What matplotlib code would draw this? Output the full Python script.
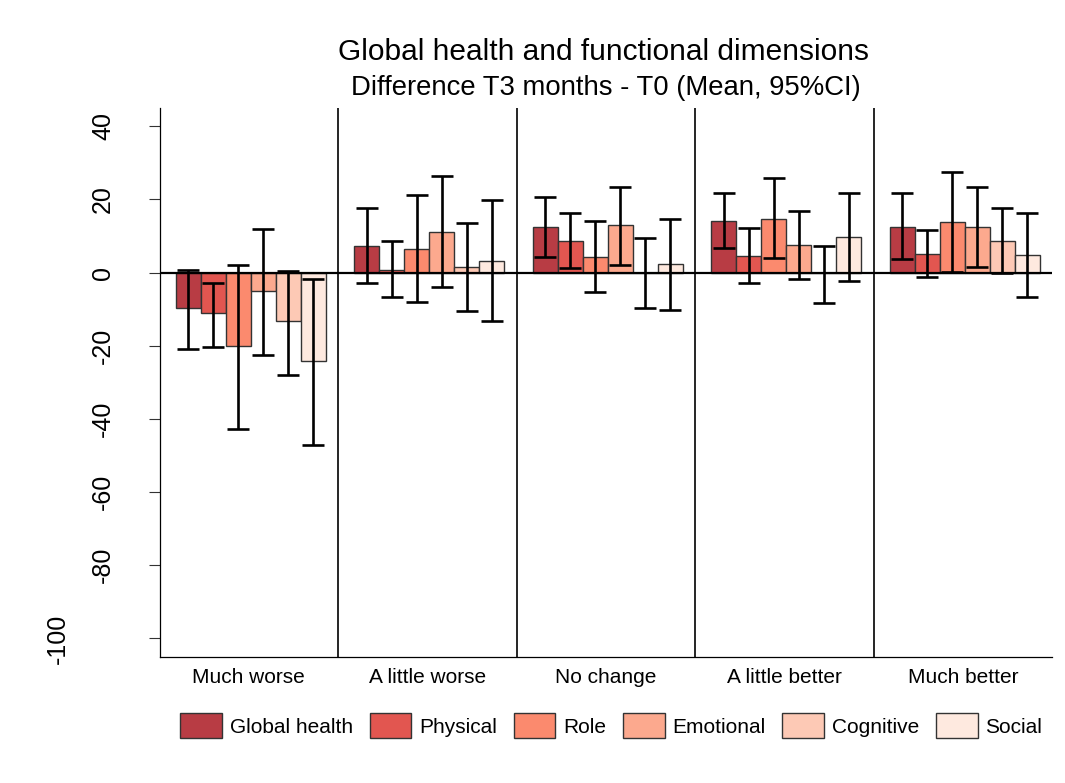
import numpy as np
import matplotlib
matplotlib.use("Agg")
import matplotlib.pyplot as plt
from matplotlib.transforms import ScaledTranslation

plt.rcParams["font.family"] = ["Liberation Sans", "DejaVu Sans"]

# Données (moyenne, IC 95 %)
groups = ["Much worse", "A little worse", "No change", "A little better", "Much better"]
dimensions = ["Global health", "Physical", "Role", "Emotional", "Cognitive", "Social"]
colors = ["#b83c44", "#e25650", "#fb8a6e", "#fca98e", "#fdc9b5", "#fee9df"]

global_mean = [-9.7, 7.4, 12.6, 14.2, 12.5]
global_lo = [-20.8, -2.7, 4.4, 6.7, 3.7]
global_hi = [0.7, 17.6, 20.8, 21.9, 21.7]

physical_mean = [-11.1, 0.8, 8.7, 4.6, 5.2]
physical_lo = [-20.2, -6.7, 1.2, -2.9, -1.1]
physical_hi = [-2.7, 8.7, 16.2, 12.2, 11.7]

role_mean = [-20.0, 6.5, 4.4, 14.8, 13.8]
role_lo = [-42.7, -8.1, -5.3, 4.1, 0.1]
role_hi = [2.1, 21.1, 14.2, 25.8, 27.5]

emotional_mean = [-4.9, 11.1, 12.9, 7.6, 12.4]
emotional_lo = [-22.4, -4.0, 2.2, -1.6, 1.5]
emotional_hi = [11.9, 26.3, 23.5, 16.9, 23.3]

cognitive_mean = [-13.2, 1.5, -0.2, -0.1, 8.7]
cognitive_lo = [-28.0, -10.6, -9.7, -8.4, -0.2]
cognitive_hi = [0.5, 13.7, 9.6, 7.3, 17.6]

social_mean = [-24.1, 3.3, 2.4, 9.8, 4.7]
social_lo = [-47.1, -13.2, -10.1, -2.2, -6.7]
social_hi = [-1.7, 19.8, 14.8, 21.9, 16.2]

yticks = [-100, -80, -60, -40, -20, 0, 20, 40]

series = [
    (global_mean, global_lo, global_hi),
    (physical_mean, physical_lo, physical_hi),
    (role_mean, role_lo, role_hi),
    (emotional_mean, emotional_lo, emotional_hi),
    (cognitive_mean, cognitive_lo, cognitive_hi),
    (social_mean, social_lo, social_hi),
]

fig = plt.figure(figsize=(10.65, 7.83), dpi=100)
ax = fig.add_axes([0.1498, 0.1613, 0.838, 0.7007])

centers = np.arange(len(groups)) + 0.5
width = 0.14
for k, ((mean, lo, hi), name, color) in enumerate(zip(series, dimensions, colors)):
    mean = np.array(mean)
    x = centers + (k - 2.5) * width + 0.01
    ax.bar(x, mean, width=width, color=color, edgecolor="#333333", linewidth=1.0,
           label=name, zorder=2)
    yerr = np.vstack([mean - np.array(lo), np.array(hi) - mean])
    ax.errorbar(x, mean, yerr=yerr, fmt="none", ecolor="black", elinewidth=1.9,
                capsize=8, capthick=1.9, zorder=4)

# ligne zéro et séparateurs de groupes
ax.axhline(0, color="black", linewidth=1.6, zorder=3)
for sep in range(1, len(groups)):
    ax.axvline(sep, color="black", linewidth=1.2, zorder=1)

ax.set_xlim(0, len(groups))
ax.set_ylim(-105, 45)
ax.set_xticks(centers)
ax.set_xticklabels(groups, fontsize=15)
ax.tick_params(axis="x", length=0, pad=8)
ax.set_yticks(yticks)
ax.set_yticklabels([str(v) for v in yticks], rotation=90, va="center", fontsize=18)
ax.tick_params(axis="y", length=8, width=0.8, pad=24, color="#333333")

# le label -100 est décalé vers la gauche dans l'original
lab = ax.get_yticklabels()[0]
lab.set_transform(lab.get_transform() + ScaledTranslation(-0.45, 0, fig.dpi_scale_trans))

for side in ("top", "right"):
    ax.spines[side].set_visible(False)
ax.spines["left"].set_linewidth(0.9)
ax.spines["bottom"].set_linewidth(0.9)

fig.text(0.5665, 0.934, "Global health and functional dimensions", ha="center",
         va="center", fontsize=21.5)
fig.text(0.5685, 0.887, "Difference T3 months - T0 (Mean, 95%CI)", ha="center",
         va="center", fontsize=19.8)

fig.legend(loc="center", bbox_to_anchor=(0.574, 0.073), ncol=6, frameon=False,
           fontsize=15, handlelength=2.0, handleheight=1.45, handletextpad=0.38,
           columnspacing=0.8)

fig.savefig("out.png", dpi=100)
